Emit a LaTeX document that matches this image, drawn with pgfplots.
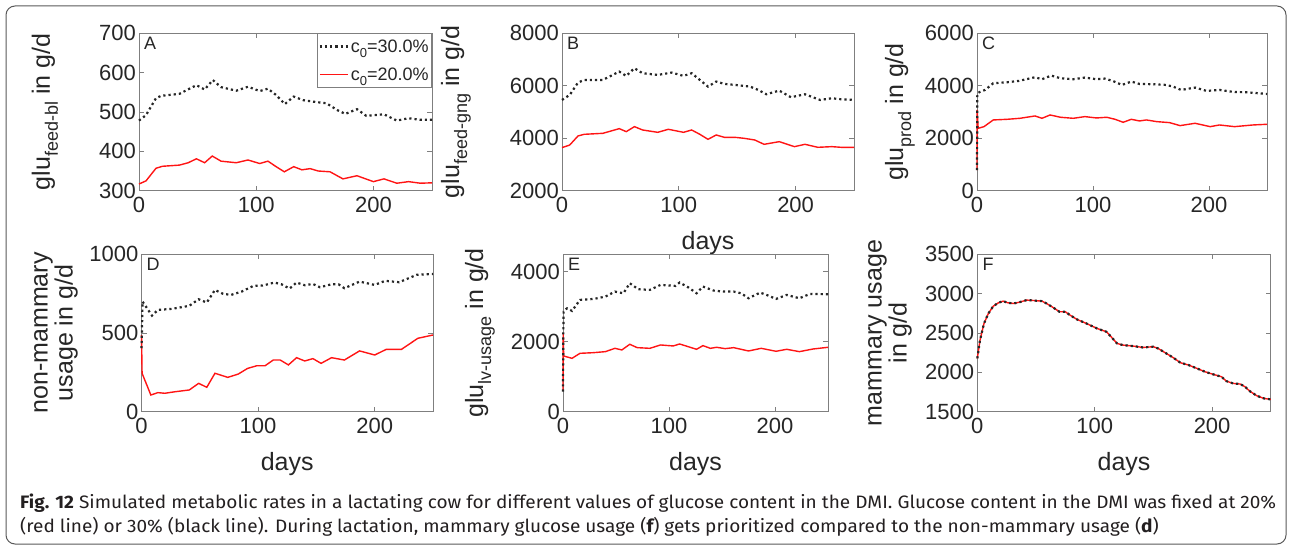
\documentclass[border=0pt]{standalone}
\usepackage{fontspec}
\setmainfont{Liberation Sans}
\newfontfamily\capfont{Fira Sans}
\usepackage{pgfplots}
\pgfplotsset{compat=1.18}

\definecolor{axgray}{HTML}{7F7F7F}
\definecolor{txt}{HTML}{262626}
\definecolor{mred}{HTML}{FF1414}
\definecolor{captxt}{HTML}{231F20}

% subscript in the MATLAB style: small and dropped well below the baseline
\newcommand\lsub[1]{\raisebox{-8pt}{\fontsize{18}{18}\selectfont #1}}
\newcommand\csub[1]{\raisebox{-5.5pt}{\fontsize{13}{13}\selectfont #1}}

\pgfplotsset{
  panel/.style={
    scale only axis, height=157.5pt,
    xmin=0, xmax=250, xtick={0,100,200},
    clip=false,
    axis line style={axgray, line width=0.7pt},
    tick style={axgray, line width=0.7pt},
    major tick length=5pt, tick align=inside,
    ticklabel style={font=\fontsize{22}{22}\selectfont, text=txt},
    yticklabel style={inner xsep=3pt},
    /pgf/number format/assume math mode=true,
    /pgf/number format/1000 sep={},
    scaled ticks=false,
    xticklabel style={yshift=-3pt},
    label style={font=\fontsize{25}{25}\selectfont, text=txt},
    xlabel style={at={(axis description cs:0.5,0)}, anchor=base, yshift=-59pt},
  },
  blk/.style={black!85, line width=2.2pt, dash pattern=on 2.2pt off 3pt},
  rd/.style={mred, line width=1.4pt},
}
\newcommand\panelletter[1]{\node[anchor=north west, inner sep=0pt, xshift=5pt, yshift=-4pt,
  font=\fontsize{18}{18}\selectfont, text=txt] at (rel axis cs:0,1) {#1};}

\newsavebox\capA
\newsavebox\capB
\newlength\capw

\begin{document}
\sbox\capA{\capfont\fontsize{18}{18}\selectfont\color{captxt}{\bfseries Fig. 12} Simulated metabolic rates in a lactating cow for different values of glucose content in the DMI. Glucose content in the DMI was fixed at 20\%}%
\sbox\capB{\capfont\fontsize{18}{18}\selectfont\color{captxt}(red line) or 30\% (black line). During lactation, mammary glucose usage ({\bfseries f}) gets prioritized compared to the non-mammary usage ({\bfseries d})}%
\setlength\capw{\wd\capA}%
\pgfmathsetmacro\capx{1256/\capw}%
\begin{tikzpicture}[x=1pt, y=1pt]
\path[use as bounding box] (0pt,0pt) rectangle (1292pt,554pt);
\draw[rounded corners=9pt, black!65, line width=1pt] (6pt,10pt) rectangle (1286pt,548pt);

% ---------- A: feed glucose, blood ----------
\begin{axis}[panel, at={(139pt,363.3pt)}, anchor=south west, width=293pt,
  ymin=300, ymax=700, ytick={300,400,...,700},
  ylabel={glu\lsub{feed-bl} in g/d},
  ylabel style={at={(axis description cs:-0.3038,0.5)}, anchor=base},
  legend style={at={(rel axis cs:1,1)}, anchor=north east, draw=axgray, line width=0.7pt,
    font=\fontsize{18}{18}\selectfont, text=txt, inner xsep=1pt, inner ysep=4pt,
    row sep=10pt, cells={anchor=west}},
  legend image code/.code={\draw[#1] (0pt,0pt) -- (28pt,0pt);},
  reverse legend]
\addplot[rd] coordinates {(0,317)(6,325)(14.5,357)(20,362)(34.5,365)(42,371)(49,381)(56,371)(62.5,388)(70,375)(83,371)(93,378)(103,369)(110,375)(117,361)(124,348)(132,361)(139,353)(146,356)(153,350)(163,348)(174,330)(186,338)(200,323)(209,330)(220,319)(230,323)(240,319)(250,320)};
\addlegendentry{c\csub{0}=20.0\%}
\addplot[blk] coordinates {(0,478)(6,492)(14.5,535)(19,541)(34.5,546)(49,568)(56,557)(63,581)(70,563)(83,554)(93,564)(103,553)(110,559)(117,543)(124.4,520)(132,539)(140,530)(149,526)(160,522)(169,505)(176,495)(186,507)(194,490)(209,494)(220,478)(230,484)(240,480)(250,480)};
\addlegendentry{c\csub{0}=30.0\%}
\panelletter{A}
\end{axis}

% ---------- B: feed glucose, gluconeogenic ----------
\begin{axis}[panel, at={(562pt,363.3pt)}, anchor=south west, width=292pt,
  ymin=2000, ymax=8000, ytick={2000,4000,6000,8000},
  xlabel={days},
  ylabel={glu\lsub{feed-gng} in g/d},
  ylabel style={at={(axis description cs:-0.3527,0.5)}, anchor=base}]
\addplot[rd] coordinates {(0,3640)(6.6,3740)(13.7,4085)(19,4148)(35,4186)(42,4275)(49,4364)(55,4250)(62,4440)(69,4313)(82,4224)(91,4339)(104,4224)(111,4313)(118,4148)(125,3957)(132,4123)(139,4034)(148,4034)(156,3995)(165,3932)(173,3767)(186,3868)(199,3678)(208,3767)(219,3653)(231,3678)(239,3653)(250,3653)};
\addplot[blk] coordinates {(0,5457)(6.6,5648)(13.7,6118)(19,6220)(35,6220)(49,6538)(55,6373)(62,6665)(69,6475)(82,6411)(94,6500)(104,6373)(111,6475)(118,6220)(125,5966)(132,6157)(139,6068)(148,6030)(161,5966)(168,5839)(175,5674)(186,5813)(196,5560)(208,5674)(221,5457)(231,5521)(239,5483)(250,5457)};
\panelletter{B}
\end{axis}

% ---------- C: glucose production ----------
\begin{axis}[panel, at={(977pt,363.3pt)}, anchor=south west, width=290pt,
  ymin=0, ymax=6000, ytick={0,2000,4000,6000},
  ylabel={glu\lsub{prod} in g/d},
  ylabel style={at={(axis description cs:-0.2552,0.5)}, anchor=base}]
\addplot[rd] coordinates {(0,788)(0.1,3076)(1,2377)(6,2440)(14,2695)(26,2720)(37,2758)(50,2847)(56,2758)(63,2885)(72,2797)(83,2758)(93,2822)(103,2771)(112,2797)(119,2720)(126,2606)(133,2720)(140,2657)(146,2695)(155,2631)(166,2593)(175,2479)(188,2568)(201,2440)(209,2504)(222,2440)(238,2504)(250,2530)};
\addplot[blk] coordinates {(0,788)(0.3,3712)(3,3775)(7,3839)(14,4093)(26,4131)(36,4182)(50,4322)(56,4246)(64,4385)(72,4284)(83,4246)(93,4309)(103,4246)(110,4271)(117,4182)(125,4029)(133,4157)(140,4068)(152,4055)(163,4029)(169,3966)(176,3839)(188,3928)(198,3801)(209,3839)(221,3763)(232,3750)(250,3686)};
\panelletter{C}
\end{axis}

% ---------- D: non-mammary usage ----------
\begin{axis}[panel, at={(141.5pt,142.3pt)}, anchor=south west, width=291.5pt,
  ymin=0, ymax=1000, ytick={0,500,1000},
  xlabel={days},
  ylabel={non-mammary\\usage in g/d},
  ylabel style={at={(axis description cs:-0.2933,0.5)}, anchor=center, align=center}]
\addplot[rd] coordinates {(0,487)(0.5,244)(8,106)(14,121)(20,117)(29,127)(41,138)(49,180)(56,155)(63,244)(74,218)(83,239)(91,275)(99,292)(106,292)(113,328)(119,328)(126,297)(133,343)(140,322)(147,337)(154,307)(163,343)(174,328)(187,386)(200,360)(210,396)(223,396)(237,466)(250,487)};
\addplot[blk] coordinates {(0,403)(0.4,519)(0.9,699)(3.4,672)(9,610)(14,646)(26,653)(41,672)(49,714)(56,693)(63,773)(70,748)(77,742)(86,763)(96,799)(104,801)(114,820)(120,809)(127,782)(133,820)(140,803)(147,811)(153,790)(163,809)(169,809)(174,784)(187,826)(200,805)(209,831)(221,822)(236,869)(250,875)};
\panelletter{D}
\end{axis}

% ---------- E: liver usage ----------
\begin{axis}[panel, at={(563pt,142.3pt)}, anchor=south west, width=265pt,
  ymin=0, ymax=4500, ytick={0,2000,4000},
  xlabel={days},
  ylabel={glu\lsub{lv-usage} in g/d},
  ylabel style={at={(axis description cs:-0.3019,0.5)}, anchor=base}]
\addplot[rd] coordinates {(0,600)(0.2,2240)(0.6,1592)(8.5,1525)(16,1668)(29,1687)(40,1716)(49,1811)(55.5,1764)(63,1926)(70,1830)(82,1811)(92,1907)(104,1878)(110,1935)(118,1859)(126,1783)(132,1888)(139,1811)(145,1840)(153,1802)(161,1830)(175,1735)(187,1811)(201,1726)(211,1783)(223,1716)(236,1792)(250,1840)};
\addplot[blk] coordinates {(0,572)(0.3,2288)(0.6,2860)(3.8,2955)(8.5,2880)(16,3194)(29,3222)(40,3289)(49,3432)(57,3384)(63,3670)(71,3499)(82,3480)(92,3623)(106,3594)(110,3690)(118,3556)(126,3384)(132,3575)(142,3461)(151,3432)(161,3432)(168,3384)(175,3241)(186,3403)(192,3337)(201,3222)(211,3337)(223,3241)(233,3365)(250,3356)};
\panelletter{E}
\end{axis}

% ---------- F: mammary usage ----------
\begin{axis}[panel, at={(977.3pt,142.3pt)}, anchor=south west, width=293.5pt,
  ymin=1500, ymax=3500, ytick={1500,2000,...,3500},
  xlabel={days},
  ylabel={mammary usage\\in g/d},
  ylabel style={at={(axis description cs:-0.2974,0.5)}, anchor=center, align=center}]
\addplot[rd] coordinates {(0,2177)(2.3,2409)(5.7,2620)(9.4,2747)(13.6,2840)(18,2883)(22,2904)(26,2883)(31,2874)(36,2891)(42,2917)(48,2912)(55,2904)(59,2874)(65,2819)(70,2769)(75,2769)(79,2726)(85,2671)(93,2620)(102,2557)(110,2515)(114,2451)(119,2367)(124,2346)(133,2333)(141,2316)(150,2325)(154,2303)(161,2240)(167,2185)(173,2122)(180,2092)(187,2050)(194,2007)(201,1974)(208,1944)(212,1889)(218,1859)(224,1851)(228,1817)(232,1762)(238,1703)(244,1669)(250,1656)};
\addplot[blk] coordinates {(0,2177)(2.3,2409)(5.7,2620)(9.4,2747)(13.6,2840)(18,2883)(22,2904)(26,2883)(31,2874)(36,2891)(42,2917)(48,2912)(55,2904)(59,2874)(65,2819)(70,2769)(75,2769)(79,2726)(85,2671)(93,2620)(102,2557)(110,2515)(114,2451)(119,2367)(124,2346)(133,2333)(141,2316)(150,2325)(154,2303)(161,2240)(167,2185)(173,2122)(180,2092)(187,2050)(194,2007)(201,1974)(208,1944)(212,1889)(218,1859)(224,1851)(228,1817)(232,1762)(238,1703)(244,1669)(250,1656)};
\panelletter{F}
\end{axis}

% ---------- caption ----------
\node[anchor=base west, inner sep=0pt] at (20pt,46pt) {\scalebox{\capx}[1]{\usebox\capA}};
\node[anchor=base west, inner sep=0pt] at (20pt,22pt) {\scalebox{\capx}[1]{\usebox\capB}};
\end{tikzpicture}
\end{document}
